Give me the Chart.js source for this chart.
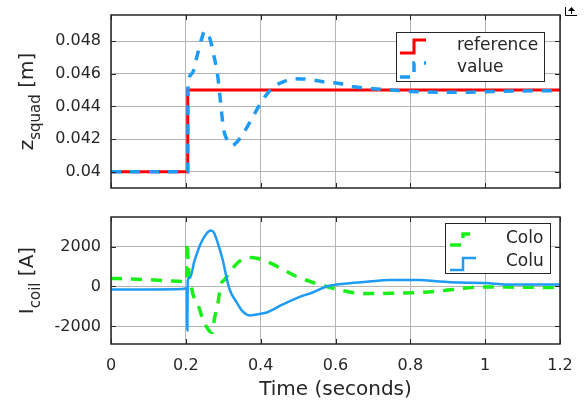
<!DOCTYPE html>
<html>
<head>
<meta charset="utf-8">
<script src="https://cdn.jsdelivr.net/npm/chart.js@4.4.1/dist/chart.umd.min.js"></script>
<style>
html, body { margin: 0; padding: 0; background: #fff; }
#wrap { position: relative; width: 585px; height: 401px; overflow: hidden; }
canvas { position: absolute; left: 0; }
#zChart { top: 0; }
#iChart { top: 200px; }
</style>
</head>
<body>
<div id="wrap">
  <canvas id="zChart" width="585" height="200"></canvas>
  <canvas id="iChart" width="585" height="201"></canvas>
</div>
<script>
// Achsen-Ticks
const xTicks = [0, 0.2, 0.4, 0.6, 0.8, 1, 1.2];
const xTickLabels = ['0', '0.2', '0.4', '0.6', '0.8', '1', '1.2'];
const zTicks = [0.04, 0.042, 0.044, 0.046, 0.048];
const zTickLabels = ['0.04', '0.042', '0.044', '0.046', '0.048'];
const iTicks = [-2000, 0, 2000];
const iTickLabels = ['-2000', '0', '2000'];

// oberes Diagramm: z_squad
const refTime = [0, 0.205, 0.205, 1.2];
const refZ = [0.04, 0.04, 0.045, 0.045];
const valueTime = [0, 0.205, 0.206, 0.216, 0.229, 0.243, 0.25, 0.258, 0.265, 0.272, 0.285, 0.293, 0.301, 0.315,
    0.323, 0.336, 0.355, 0.373, 0.4, 0.43, 0.46, 0.49, 0.53, 0.57, 0.61, 0.65, 0.7, 0.75, 0.8, 0.85, 0.9, 0.95, 1.0, 1.1, 1.2];
const valueZ = [0.04, 0.04, 0.0452, 0.046, 0.047, 0.0482, 0.0486, 0.0485, 0.0481, 0.0474, 0.0459, 0.0442, 0.0426, 0.0418,
    0.0416, 0.0418, 0.0424, 0.0431, 0.0442, 0.0451, 0.0455, 0.0457, 0.04565, 0.0455, 0.0454, 0.0452, 0.04508, 0.045, 0.04492,
    0.04488, 0.04487, 0.04487, 0.0449, 0.04495, 0.04497];

// unteres Diagramm: Spulenströme
const coloTime = [0, 0.05, 0.1, 0.15, 0.2, 0.202, 0.203, 0.206, 0.208, 0.213, 0.219, 0.227, 0.237, 0.245, 0.253, 0.264,
    0.27, 0.277, 0.285, 0.293, 0.304, 0.317, 0.339, 0.376, 0.416, 0.45, 0.49, 0.54, 0.576, 0.63, 0.68, 0.75, 0.82, 0.88,
    0.93, 0.97, 1.0, 1.1, 1.2];
const coloI = [400, 380, 340, 290, 250, 250, 2200, 1300, 700, 200, -400, -700, -1150, -1650, -1950, -2250,
    -2300, -1550, -950, 50, 350, 700, 1200, 1450, 1250, 950, 550, 200, 0, -250, -350, -340, -300, -220,
    -120, -40, -20, -40, -50];
const coluTime = [0, 0.1, 0.19, 0.2, 0.203, 0.204, 0.205, 0.211, 0.223, 0.239, 0.254, 0.267, 0.275, 0.285, 0.299,
    0.307, 0.317, 0.336, 0.352, 0.371, 0.389, 0.416, 0.459, 0.504, 0.539, 0.576, 0.63, 0.69, 0.745, 0.824, 0.877,
    0.93, 1.0, 1.056, 1.2];
const coluI = [-150, -150, -130, -100, -100, -2200, 300, 450, 1280, 2120, 2620, 2800, 2700, 2200, 1300,
    600, -150, -800, -1250, -1450, -1400, -1300, -900, -520, -300, 0, 150, 250, 330, 330, 250,
    200, 180, 100, 100];

const FONT = 'DejaVu Sans';
const TEXT = '#262626';
const GRID = '#b4b4b4';

function toPoints(xs, ys) {
    return xs.map((x, i) => ({ x: x, y: ys[i] }));
}

// Rahmen, innere Ticks, Achsentitel und Legende im MATLAB-Stil
const matlabStyle = {
    id: 'matlabStyle',
    afterDraw(chart, args, opts) {
        const ctx = chart.ctx;
        const a = chart.chartArea;
        const xs = chart.scales.x;
        const ys = chart.scales.y;
        ctx.save();

        // Tickmarken innen, auf allen Seiten
        ctx.strokeStyle = TEXT;
        ctx.lineWidth = 1;
        ctx.beginPath();
        xs.ticks.forEach(t => {
            const p = Math.round(xs.getPixelForValue(t.value)) + 0.5;
            ctx.moveTo(p, a.bottom); ctx.lineTo(p, a.bottom - 5);
            ctx.moveTo(p, a.top); ctx.lineTo(p, a.top + 5);
        });
        ys.ticks.forEach(t => {
            const p = Math.round(ys.getPixelForValue(t.value)) + 0.5;
            ctx.moveTo(a.left, p); ctx.lineTo(a.left + 5, p);
            ctx.moveTo(a.right, p); ctx.lineTo(a.right - 5, p);
        });
        ctx.stroke();

        // Box
        ctx.lineWidth = 1.5;
        ctx.strokeRect(a.left, a.top, a.right - a.left, a.bottom - a.top);

        // y-Titel mit Index
        const yl = opts.yLabel;
        ctx.fillStyle = TEXT;
        ctx.translate(yl.x, (a.top + a.bottom) / 2);
        ctx.rotate(-Math.PI / 2);
        ctx.textBaseline = 'alphabetic';
        ctx.textAlign = 'left';
        ctx.font = '20px "' + FONT + '"';
        const w1 = ctx.measureText(yl.main).width;
        const w3 = ctx.measureText(yl.rest).width;
        ctx.font = '15px "' + FONT + '"';
        const w2 = ctx.measureText(yl.sub).width;
        let x0 = -(w1 + w2 + w3) / 2;
        ctx.font = '20px "' + FONT + '"';
        ctx.fillText(yl.main, x0, 0);
        ctx.font = '15px "' + FONT + '"';
        ctx.fillText(yl.sub, x0 + w1, 7);
        ctx.font = '20px "' + FONT + '"';
        ctx.fillText(yl.rest, x0 + w1 + w2, 0);
        ctx.setTransform(1, 0, 0, 1, 0, 0);

        // x-Titel
        if (opts.xLabel) {
            ctx.font = '20px "' + FONT + '"';
            ctx.textAlign = 'center';
            ctx.textBaseline = 'alphabetic';
            ctx.fillText(opts.xLabel.text, (a.left + a.right) / 2, opts.xLabel.y);
        }

        // Legende
        const lg = opts.legend;
        ctx.fillStyle = '#fff';
        ctx.fillRect(lg.x, lg.y, lg.w, lg.h);
        ctx.strokeStyle = TEXT;
        ctx.lineWidth = 1;
        ctx.strokeRect(lg.x + 0.5, lg.y + 0.5, lg.w, lg.h);
        chart.data.datasets.forEach((ds, i) => {
            const row = lg.rows[i];
            ctx.strokeStyle = ds.borderColor;
            ctx.lineWidth = ds.borderWidth;
            ctx.setLineDash(ds.borderDash || []);
            ctx.lineDashOffset = row.dashOffset || 0;
            ctx.beginPath();
            ctx.moveTo(lg.iconX0, row.low);
            ctx.lineTo(lg.iconXm, row.low);
            ctx.lineTo(lg.iconXm, row.high);
            ctx.lineTo(lg.iconX1, row.high);
            ctx.stroke();
            ctx.setLineDash([]);
            ctx.fillStyle = TEXT;
            ctx.font = '17px "' + FONT + '"';
            ctx.textAlign = 'left';
            ctx.textBaseline = 'middle';
            ctx.fillText(ds.label, lg.textX, row.text);
        });

        // kleines Undock-Symbol oben rechts
        if (opts.corner) {
            ctx.strokeStyle = '#000';
            ctx.fillStyle = '#000';
            ctx.lineWidth = 1;
            ctx.beginPath();
            ctx.moveTo(565.5, 7); ctx.lineTo(565.5, 15.5); ctx.lineTo(577, 15.5);
            ctx.moveTo(571.5, 10); ctx.lineTo(571.5, 14);
            ctx.stroke();
            ctx.beginPath();
            ctx.moveTo(568, 11); ctx.lineTo(571.5, 7); ctx.lineTo(575, 11);
            ctx.closePath();
            ctx.fill();
        }
        ctx.restore();
    }
};

function xAxis(showLabels, height, pad) {
    return {
        type: 'linear',
        min: 0,
        max: 1.2,
        afterBuildTicks: axis => { axis.ticks = xTicks.map(v => ({ value: v })); },
        afterFit: axis => {
            axis.height = height;
            axis.paddingLeft = 0;
            axis.paddingRight = 0;
        },
        grid: { color: GRID, drawTicks: false },
        border: { display: false },
        ticks: {
            display: showLabels,
            padding: pad,
            color: TEXT,
            font: { family: FONT, size: 16 },
            maxRotation: 0,
            callback: (v, i) => xTickLabels[i]
        }
    };
}

function yAxis(min, max, ticks, labels) {
    return {
        type: 'linear',
        min: min,
        max: max,
        afterBuildTicks: axis => { axis.ticks = ticks.map(v => ({ value: v })); },
        afterFit: axis => {
            axis.width = 111;
            // Label-Überhang nicht als Innenabstand rechnen
            axis.paddingTop = 0;
            axis.paddingBottom = 0;
        },
        grid: { color: GRID, drawTicks: false },
        border: { display: false },
        ticks: {
            padding: 10,
            color: TEXT,
            font: { family: FONT, size: 16 },
            callback: (v, i) => labels[i]
        }
    };
}

const commonOpts = {
    responsive: false,
    animation: false,
    devicePixelRatio: 1,
    plugins: { legend: { display: false }, tooltip: { enabled: false } },
    elements: { point: { radius: 0 }, line: { tension: 0 } }
};

new Chart(document.getElementById('zChart').getContext('2d'), {
    type: 'line',
    data: {
        datasets: [
            { label: 'reference', data: toPoints(refTime, refZ), borderColor: '#ff0000', borderWidth: 3, order: 2 },
            { label: 'value', data: toPoints(valueTime, valueZ), borderColor: '#1e9bf5', borderWidth: 3.5,
              borderDash: [10, 9], cubicInterpolationMode: 'monotone', order: 1 }
        ]
    },
    options: Object.assign({}, commonOpts, {
        layout: { padding: { top: 15, right: 25, left: 0, bottom: 0 } },
        scales: {
            x: xAxis(false, 12, 0),
            y: yAxis(0.039, 0.0496, zTicks, zTickLabels)
        },
        plugins: Object.assign({}, commonOpts.plugins, {
            matlabStyle: {
                yLabel: { x: 33, main: 'z', sub: 'squad', rest: ' [m]' },
                legend: {
                    x: 396, y: 32, w: 148, h: 49,
                    iconX0: 400, iconXm: 414, iconX1: 426, textX: 457,
                    rows: [{ low: 53, high: 40, text: 46 }, { low: 77, high: 63, text: 68, dashOffset: 0 }]
                },
                corner: true
            }
        })
    }),
    plugins: [matlabStyle]
});

new Chart(document.getElementById('iChart').getContext('2d'), {
    type: 'line',
    data: {
        datasets: [
            { label: 'Colo', data: toPoints(coloTime, coloI), borderColor: '#19f019', borderWidth: 3.5,
              borderDash: [11, 9], cubicInterpolationMode: 'monotone', order: 2 },
            { label: 'Colu', data: toPoints(coluTime, coluI), borderColor: '#1e9bf5', borderWidth: 2.5,
              cubicInterpolationMode: 'monotone', order: 1 }
        ]
    },
    options: Object.assign({}, commonOpts, {
        layout: { padding: { top: 17, right: 25, left: 0, bottom: 0 } },
        scales: {
            x: xAxis(true, 57, 12),
            y: yAxis(-2880, 3480, iTicks, iTickLabels)
        },
        plugins: Object.assign({}, commonOpts.plugins, {
            matlabStyle: {
                yLabel: { x: 33, main: 'I', sub: 'coil', rest: ' [A]' },
                xLabel: { text: 'Time (seconds)', y: 195 },
                legend: {
                    x: 445, y: 23, w: 105, h: 50,
                    iconX0: 450, iconXm: 463, iconX1: 476, textX: 506,
                    rows: [{ low: 45, high: 34, text: 39 }, { low: 70, high: 58, text: 62 }]
                },
                corner: false
            }
        })
    }),
    plugins: [matlabStyle]
});
</script>
</body>
</html>
